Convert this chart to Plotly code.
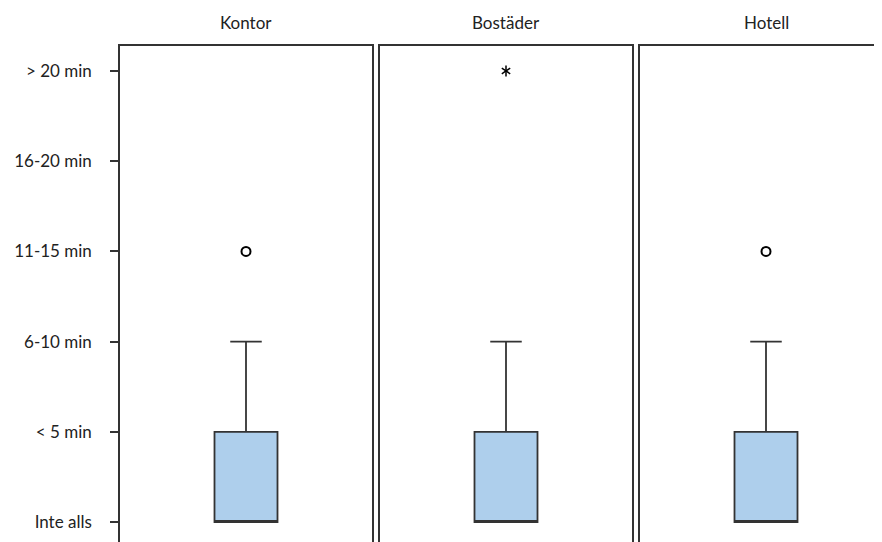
import plotly.graph_objects as go

# ---- data ----
groups = ["Kontor", "Bostäder", "Hotell"]
tick_labels = ["Inte alls", "< 5 min", "6-10 min", "11-15 min", "16-20 min", "> 20 min"]
q1 = [0, 0, 0]
median = [0, 0, 0]
q3 = [1, 1, 1]
lower_fence = [0, 0, 0]
upper_fence = [2, 2, 2]
outlier_values = [3, 5, 3]
outlier_kind = ["circle", "extreme", "circle"]

# ---- style ----
# page body has an 8px margin, so the figure is drawn 8px smaller
W, H = 874, 534
FONT = "Lato"
LINE = "#333333"
FILL = "#AECFEC"
PW = 252.0
lefts = [112, 372, 632]
domains = [(l / W, min(1.0, (l + PW) / W)) for l in lefts]
yrange = [-0.222, 5.277]
TOP = 38

fig = go.Figure()
layout = dict(
    width=W, height=H,
    margin=dict(l=0, r=0, t=TOP, b=0),
    paper_bgcolor="white", plot_bgcolor="white",
    showlegend=False,
    font=dict(family=FONT, size=17, color="#222222"),
)

annotations = []
for i, g in enumerate(groups):
    n = "" if i == 0 else str(i + 1)
    xa, ya = "x" + n, "y" + n
    d0, d1 = domains[i]
    span = (d1 - d0) * W / PW
    xr = [-0.5, -0.5 + span]

    fig.add_trace(go.Box(
        x=[0], q1=[q1[i]], median=[median[i]], q3=[q3[i]],
        lowerfence=[lower_fence[i]], upperfence=[upper_fence[i]],
        width=0.25, whiskerwidth=0.5,
        fillcolor=FILL, line=dict(color=LINE, width=1.8),
        boxpoints=False, xaxis=xa, yaxis=ya, hoverinfo="skip",
    ))
    if outlier_kind[i] == "circle":
        fig.add_trace(go.Scatter(
            x=[0], y=[outlier_values[i]], mode="markers",
            marker=dict(symbol="circle-open", size=9, color="black",
                        line=dict(width=2, color="black")),
            xaxis=xa, yaxis=ya,
        ))
    else:
        for sym in ["y-up-open", "y-down-open"]:
            fig.add_trace(go.Scatter(
                x=[0], y=[outlier_values[i]], mode="markers",
                marker=dict(symbol=sym, size=7, color="black",
                            line=dict(width=1.5, color="black")),
                xaxis=xa, yaxis=ya,
            ))

    layout["xaxis" + n] = dict(
        domain=[d0, d1], range=xr, side="top", showline=True,
        linecolor=LINE, linewidth=1.5, showticklabels=False, ticks="",
        showgrid=False, zeroline=False, anchor=ya, fixedrange=True,
    )
    yax = dict(
        range=yrange, showline=True, linecolor=LINE, linewidth=1.5,
        mirror=(i < 2), showgrid=False, zeroline=False, anchor=xa,
        domain=[0, 1],
    )
    if i == 0:
        yax.update(tickmode="array", tickvals=list(range(len(tick_labels))),
                   ticktext=tick_labels, ticks="outside", ticklen=8,
                   tickwidth=1.5, tickcolor=LINE, ticklabelstandoff=15,
                   tickfont=dict(family=FONT, size=17, color="#222222"))
    else:
        yax.update(showticklabels=False, ticks="")
    layout["yaxis" + n] = yax

    annotations.append(dict(
        text=g, x=(lefts[i] + PW / 2) / W, y=(H - 14) / (H - TOP),
        xref="paper", yref="paper", xanchor="center", yanchor="middle",
        showarrow=False, font=dict(family=FONT, size=17, color="#222222"),
    ))

layout["annotations"] = annotations
fig.update_layout(**layout)
fig.write_html("out.html")
